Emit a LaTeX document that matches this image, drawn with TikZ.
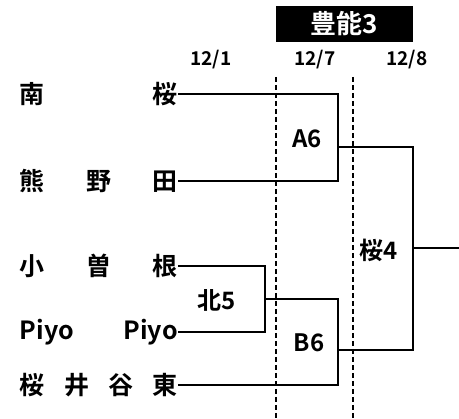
\documentclass[tikz,border=0pt]{standalone}
\usepackage{fontspec}
\setmainfont{Noto Sans CJK JP}[BoldFont={* Bold}]
\usetikzlibrary{positioning}

\begin{document}
\begin{tikzpicture}[
  x=1pt, y=-1pt,
  every node/.style={font=\bfseries},
  team/.style={anchor=east,inner sep=0pt,text width=158pt,align=left,font=\bfseries\fontsize{25}{25}\selectfont},
  day/.style={inner sep=0pt,font=\bfseries\fontsize{19}{19}\selectfont},
  game/.style={inner sep=0pt,font=\bfseries\fontsize{24}{24}\selectfont},
  wire/.style={line width=2.8pt},
  sep/.style={line width=2.2pt,dash pattern=on 5pt off 3pt}
]
\useasboundingbox (0,0) rectangle (459,419);

% Header
\node[fill=black,text=white,minimum width=137pt,minimum height=36pt,inner sep=0pt,
  font=\bfseries\fontsize{26}{26}\selectfont] (venue) at (344.5,24) {豊能3};
\node[day] (d1) at (211,60) {12/1};
\node[day] (d2) at (315,60) {12/7};
\node[day] (d3) at (407,60) {12/8};

% Day separators
\draw[sep] (276,77) -- (276,419);
\draw[sep] (353,77) -- (353,419);

% Teams
\node[team] (T1) at (178,94) {南\hfill 桜};
\node[team] (T2) at (178,181) {熊\hfill 野\hfill 田};
\node[team] (T3) at (178,266) {小\hfill 曽\hfill 根};
\node[team] (T4) at (178,332) {Piyo\hfill Piyo};
\node[team] (T5) at (178,385) {桜\hfill 井\hfill 谷\hfill 東};

% Joints
\coordinate (A6) at (338,147);
\coordinate (N5) at (265,299);
\coordinate (B6) at (338,350);
\coordinate (S4) at (413,248);
\coordinate (win) at (459,248);

% Bracket
\draw[wire] (T1.east) -| (A6) |- (T2.east);
\draw[wire] (T3.east) -| (N5) |- (T4.east);
\draw[wire] (N5) -| (B6) |- (T5.east);
\draw[wire] (A6) -| (S4) |- (B6);
\draw[wire] (S4) -- (win);

% Game labels
\node[game] (gA6) at (307,139) {A6};
\node[game] (gN5) at (217,300) {北5};
\node[game] (gB6) at (309,343) {B6};
\node[game] (gS4) at (379,250) {桜4};

\end{tikzpicture}
\end{document}
